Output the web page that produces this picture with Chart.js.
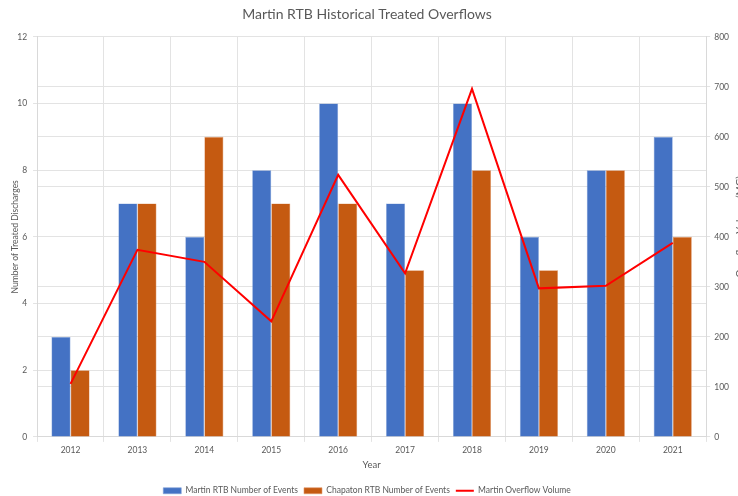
<!DOCTYPE html>
<html>
<head>
<meta charset="utf-8">
<script src="https://cdn.jsdelivr.net/npm/chart.js@4/dist/chart.umd.min.js"></script>
<style>
  html, body { margin: 0; padding: 0; background: #fff; overflow: hidden; }
  #wrap { width: 748px; height: 496px; }
</style>
</head>
<body>
<div id="wrap"><canvas id="chart"></canvas></div>
<script>
// --- Данные ---
const years = ['2012', '2013', '2014', '2015', '2016', '2017', '2018', '2019', '2020', '2021'];
const martinEvents = [3, 7, 6, 8, 10, 7, 10, 6, 8, 9];
const chapatonEvents = [2, 7, 9, 7, 7, 5, 8, 5, 8, 6];
const martinVolume = [106, 374, 350, 231, 524, 327, 696, 297, 302, 388];

const textColor = '#595959';
const gridColor = '#e3e3e3';
const font = 'Lato, "Liberation Sans", sans-serif';

Chart.defaults.font.family = font;
Chart.defaults.color = textColor;

const legendStyles = ['rect', 'rect', 'line'];

// Подпись правой оси читается снизу вверх (как в Excel), поэтому рисуем её сами
const rightTitle = {
  id: 'rightTitle',
  afterDraw(chart) {
    const { ctx, chartArea } = chart;
    ctx.save();
    ctx.translate(735, (chartArea.top + chartArea.bottom) / 2 - 10);
    ctx.rotate(-Math.PI / 2);
    ctx.font = '10px ' + font;
    ctx.fillStyle = textColor;
    ctx.textAlign = 'center';
    ctx.textBaseline = 'top';
    ctx.fillText('Overflow Volume (MG)', 0, 0);
    ctx.restore();
  }
};

new Chart(document.getElementById('chart'), {
  type: 'bar',
  data: {
    labels: years,
    datasets: [
      { label: 'Martin RTB Number of Events', data: martinEvents, backgroundColor: '#4472C4',
        borderColor: '#7f9fd8', borderWidth: 0.6, yAxisID: 'y', order: 1,
        categoryPercentage: 0.57, barPercentage: 1 },
      { label: 'Chapaton RTB Number of Events', data: chapatonEvents, backgroundColor: '#C55A11',
        borderColor: '#e0976a', borderWidth: 0.6, yAxisID: 'y', order: 1,
        categoryPercentage: 0.57, barPercentage: 1 },
      { type: 'line', label: 'Martin Overflow Volume', data: martinVolume, borderColor: '#FF0000',
        backgroundColor: '#FF0000', borderWidth: 2, pointRadius: 0, tension: 0, yAxisID: 'y1', order: 0 }
    ]
  },
  options: {
    responsive: true, maintainAspectRatio: false, animation: false,
    layout: { padding: { top: 4, left: 1, right: 15, bottom: -9 } },
    plugins: {
      title: { display: true, text: 'Martin RTB Historical Treated Overflows', color: textColor,
        font: { size: 14, weight: 'normal' }, padding: { top: 2, bottom: 14 } },
      tooltip: { enabled: false },
      legend: {
        position: 'bottom',
        labels: {
          color: textColor, font: { size: 8.5 }, usePointStyle: true, pointStyleWidth: 18, boxHeight: 6,
          padding: 6,
          sort: (a, b) => a.datasetIndex - b.datasetIndex,
          generateLabels: (chart) => Chart.defaults.plugins.legend.labels.generateLabels(chart)
            .map(item => ({ ...item, pointStyle: legendStyles[item.datasetIndex] }))
        }
      }
    },
    scales: {
      x: {
        grid: { color: gridColor, tickLength: 5, offset: true },
        border: { color: '#d9d9d9' },
        ticks: { color: textColor, font: { size: 8.5 }, padding: 3 },
        title: { display: true, text: 'Year', color: textColor, font: { size: 9.5 }, padding: { top: 1, bottom: 10 } }
      },
      y: {
        position: 'left', min: 0, max: 12,
        grid: { color: gridColor, tickLength: 4 },
        border: { color: '#d9d9d9' },
        ticks: { stepSize: 2, color: textColor, font: { size: 8.5 }, padding: 6 },
        title: { display: true, text: 'Number of Treated Discharges', color: textColor, font: { size: 8.5 },
          padding: { top: 9, bottom: -9 } }
      },
      y1: {
        position: 'right', min: 0, max: 800,
        grid: { color: gridColor, tickLength: 4 },
        border: { color: '#d9d9d9' },
        ticks: { stepSize: 100, color: textColor, font: { size: 8.5 }, padding: 4 },
        title: { display: false }
      }
    }
  },
  plugins: [rightTitle]
});
</script>
</body>
</html>
